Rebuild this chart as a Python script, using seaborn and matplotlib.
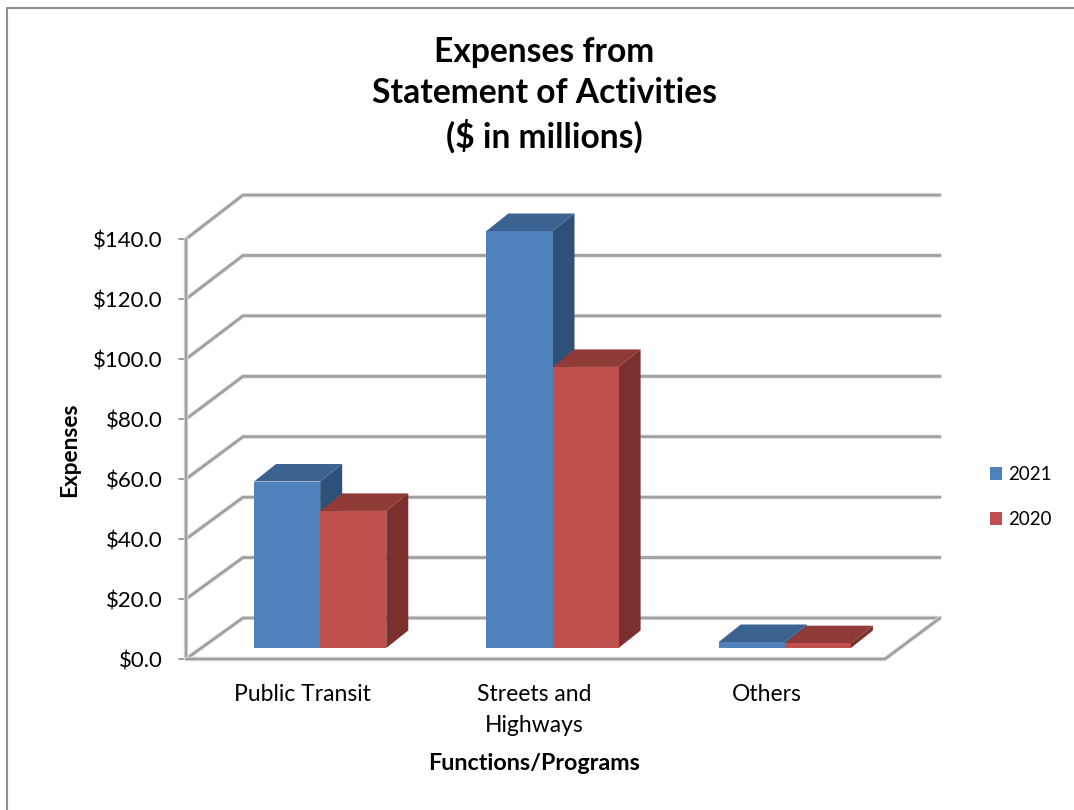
import matplotlib
matplotlib.use("Agg")
import matplotlib.pyplot as plt
import matplotlib.patheffects as pe
from matplotlib.lines import Line2D
from matplotlib.patches import Polygon
from matplotlib.transforms import Affine2D
import pandas as pd
import seaborn as sns

categories = ["Public Transit", "Streets and\nHighways", "Others"]
years = ["2021", "2020"]
values_2021 = [55.5, 139.0, 2.0]
values_2020 = [45.7, 93.7, 1.6]
yticks = [0, 20, 40, 60, 80, 100, 120, 140]
colors = {"2021": "#4f81bd", "2020": "#c0504d"}
top_colors = {"2021": "#3b6291", "2020": "#8f3a37"}
side_colors = {"2021": "#2f5179", "2020": "#7b302e"}

sns.set_theme(style="white")
plt.rcParams["font.family"] = ["Lato", "DejaVu Sans"]

W, H = 1074, 810
fig = plt.figure(figsize=(W / 100, H / 100), dpi=100, facecolor="white")
L, R, B, T = 204, 901, 648, 228
ax = fig.add_axes([L / W, 1 - B / H, (R - L) / W, (B - T) / H])
ax.patch.set_visible(False)

df = pd.DataFrame({
    "category": categories * 2,
    "year": ["2021"] * 3 + ["2020"] * 3,
    "value": values_2021 + values_2020,
})
sns.barplot(data=df, x="category", y="value", hue="year", hue_order=years,
            palette=colors, width=0.569, gap=0, saturation=1, ax=ax,
            linewidth=0, zorder=4, errorbar=None)
ax.set_xlim(-0.5, 2.5)
ax.set_ylim(0, 140)

PX = (R - L) / 3   # pixels per category
PY = (B - T) / 140  # pixels per value unit


def dx(px):
    return px / PX


def dy(px):
    return px / PY


# walls, floor and gridlines
grid_col = "#a0a0a0"
shadow = [pe.withStroke(linewidth=3.2, foreground="#e2e2e2"), pe.Normal()]
x_front_l, x_front_r = -0.5 + dx(-18), -0.5 + dx(681)
x_back_l, x_back_r = -0.5 + dx(39), -0.5 + dx(736)


def wall_line(xs, ys):
    ax.add_line(Line2D(xs, ys, color=grid_col, lw=1.7, clip_on=False, zorder=1,
                       path_effects=shadow, solid_joinstyle="miter"))


for v in yticks:
    y_front = v + dy(-11)
    y_back = v * 1.007 + dy(30)
    wall_line([x_front_l, x_back_l, x_back_r], [y_front, y_back, y_back])
    ax.add_line(Line2D([x_front_l + dx(-7), x_front_l], [y_front, y_front],
                       color="#8c8c8c", lw=1.2, clip_on=False, zorder=1))
wall_line([x_front_l, x_front_l], [dy(-11), 140 + dy(-11)])
wall_line([x_front_l, x_front_r, x_back_r], [dy(-11), dy(-11), dy(30)])

# depth faces of the bars, derived from the seaborn bars
depth_x, depth_y = dx(22), dy(17.5)
for k, container in enumerate(ax.containers):
    year = years[k]
    z = 2 + k
    for rect in container:
        x0, x1 = rect.get_x(), rect.get_x() + rect.get_width()
        h = rect.get_height()
        ax.add_patch(Polygon([(x1, 0), (x1 + depth_x, depth_y), (x1 + depth_x, h + depth_y), (x1, h)],
                             closed=True, fc=side_colors[year], ec="none", clip_on=False, zorder=z))
        ax.add_patch(Polygon([(x0, h), (x1, h), (x1 + depth_x, h + depth_y), (x0 + depth_x, h + depth_y)],
                             closed=True, fc=top_colors[year], ec="none", clip_on=False, zorder=z))

# axes dressing
sns.despine(ax=ax, left=True, bottom=True)
ax.set_xlabel("")
ax.set_ylabel("")
ax.set_yticks(yticks)
ax.set_yticklabels([f"${v:.1f}" for v in yticks])
ax.tick_params(axis="y", length=0, pad=29.5, labelsize=16, labelcolor="black")
ax.tick_params(axis="x", length=0, pad=26, labelsize=16.5, labelcolor="black")
ax.set_xticks(range(3))
ax.set_xticklabels(categories, linespacing=1.6)
for lab in ax.get_yticklabels():
    lab.set_transform(lab.get_transform() + Affine2D().translate(0, -11))
for lab in ax.get_xticklabels():
    lab.set_transform(lab.get_transform() + Affine2D().translate(-18, 0))

handles, labels = ax.get_legend_handles_labels()
ax.legend(handles, labels, loc="center left", bbox_to_anchor=(981 / W, 1 - 497 / H),
          bbox_transform=fig.transFigure, frameon=False, fontsize=13.5, borderpad=0,
          handlelength=0.64, handleheight=0.64, handletextpad=0.32, labelspacing=1.5,
          labelcolor="black")

fig.text(544 / W, 1 - 95 / H, "Expenses from\nStatement of Activities\n($ in millions)",
         ha="center", va="center", fontsize=24.2, fontweight="bold", color="black", linespacing=1.36)
fig.text(70 / W, 1 - 450 / H, "Expenses", rotation=90, ha="center", va="center",
         fontsize=16.3, fontweight="bold", color="black")
fig.text(534 / W, 1 - 764 / H, "Functions/Programs", ha="center", va="center",
         fontsize=16.8, fontweight="bold", color="black")

# chart frame: visible on the left and top edges only
fig.add_artist(Line2D([7 / W, 7 / W, 1], [0, 1 - 7.5 / H, 1 - 7.5 / H],
                      color="#8f8f8f", lw=1.5, transform=fig.transFigure))

fig.savefig("out.png", dpi=100, facecolor="white")
